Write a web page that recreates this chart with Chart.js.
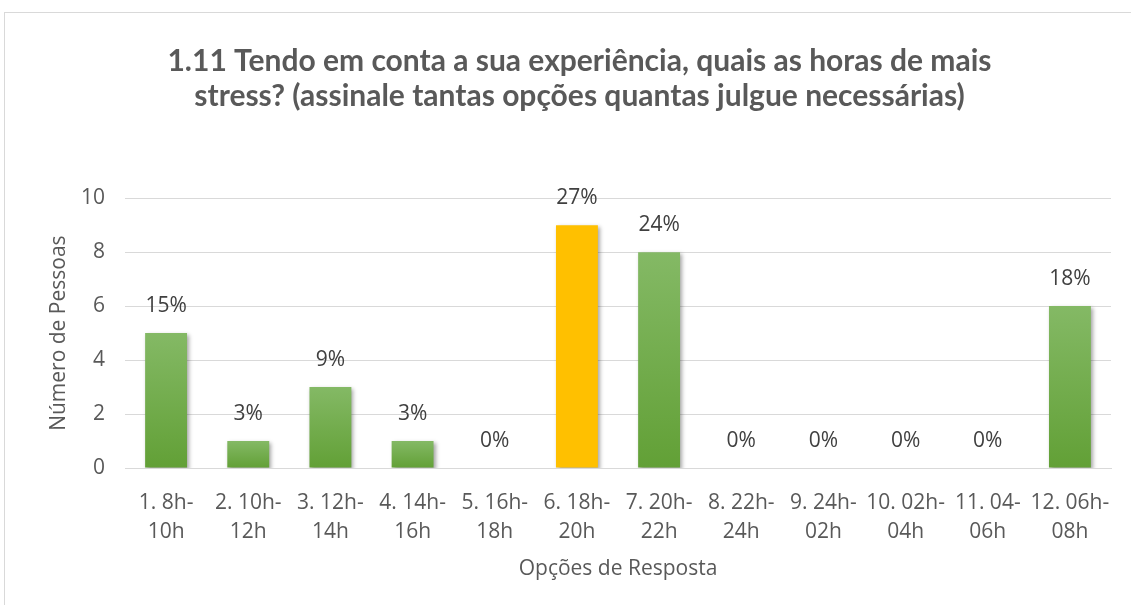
<!DOCTYPE html>
<html>
<head>
<meta charset="utf-8">
<script src="https://cdn.jsdelivr.net/npm/chart.js@4.4.1/dist/chart.umd.min.js"></script>
<style>
    html, body { margin: 0; padding: 0; background: #ffffff; }
    #wrap { position: relative; width: 1131px; height: 605px; }
</style>
</head>
<body>
<div id="wrap"><canvas id="chart1" width="1131" height="605"></canvas></div>
<script>
// Dados do gráfico
const categorias = [
    ['1. 8h-', '10h'], ['2. 10h-', '12h'], ['3. 12h-', '14h'], ['4. 14h-', '16h'],
    ['5. 16h-', '18h'], ['6. 18h-', '20h'], ['7. 20h-', '22h'], ['8. 22h-', '24h'],
    ['9. 24h-', '02h'], ['10. 02h-', '04h'], ['11. 04-', '06h'], ['12. 06h-', '08h']
];
const numeroPessoas = [5, 1, 3, 1, 0, 9, 8, 0, 0, 0, 0, 6];
const percentagens = ['15%', '3%', '9%', '3%', '0%', '27%', '24%', '0%', '0%', '0%', '0%', '18%'];
const destaque = 5; // barra amarela
const tituloLinhas = [
    '1.11 Tendo em conta a sua experiência, quais as horas de mais',
    'stress? (assinale tantas opções quantas julgue necessárias)'
];

const textColor = '#595959';
const fontBase = "'Open Sans', 'DejaVu Sans', sans-serif";

// Cor de cada barra (gradiente verde, destaque amarelo)
const barColor = (context) => {
    const chart = context.chart;
    if (context.dataIndex === destaque) return '#FFC000';
    const y = chart.scales.y;
    if (!y || !chart.chartArea) return '#70AD47';
    const v = context.raw || 0;
    const top = y.getPixelForValue(v);
    const base = y.getPixelForValue(0);
    if (top === base) return '#70AD47';
    const g = chart.ctx.createLinearGradient(0, top, 0, base);
    g.addColorStop(0, '#84b965');
    g.addColorStop(1, '#62a036');
    return g;
};

// Moldura + sombra das barras + rótulos de percentagem
const extras = {
    id: 'extras',
    beforeDraw: (chart) => {
        const ctx = chart.ctx;
        ctx.save();
        ctx.strokeStyle = '#d9d9d9';
        ctx.lineWidth = 1;
        ctx.strokeRect(4.5, 12.5, 1140, 600);
        ctx.restore();
    },
    beforeDatasetsDraw: (chart) => {
        const ctx = chart.ctx;
        ctx.save();
        ctx.shadowColor = 'rgba(0,0,0,0.35)';
        ctx.shadowBlur = 4;
        ctx.shadowOffsetX = 2;
        ctx.shadowOffsetY = 2;
    },
    afterDatasetsDraw: (chart) => {
        const ctx = chart.ctx;
        ctx.restore();
        const meta = chart.getDatasetMeta(0);
        ctx.save();
        ctx.fillStyle = '#404040';
        ctx.font = "21px " + fontBase;
        ctx.textAlign = 'center';
        ctx.textBaseline = 'middle';
        meta.data.forEach((bar, i) => {
            ctx.fillText(percentagens[i], bar.x, bar.y - 27);
        });
        ctx.restore();
    }
};

const ctx = document.getElementById('chart1').getContext('2d');
const chart = new Chart(ctx, {
    type: 'bar',
    data: {
        labels: categorias,
        datasets: [{
            label: 'Número de Pessoas',
            data: numeroPessoas,
            backgroundColor: barColor,
            borderWidth: 0,
            categoryPercentage: 1,
            barPercentage: 0.51
        }]
    },
    options: {
        responsive: false,
        animation: false,
        layout: { padding: { left: 46, right: 18, top: 0, bottom: 19 } },
        plugins: {
            legend: { display: false },
            tooltip: { enabled: false },
            title: {
                display: true,
                text: tituloLinhas,
                color: textColor,
                font: { family: "Lato, 'Open Sans', sans-serif", size: 30, weight: 'bold', lineHeight: 1.17 },
                padding: { top: 44, bottom: 84 }
            }
        },
        scales: {
            y: {
                min: 0,
                max: 10,
                ticks: { stepSize: 2, color: textColor, font: { family: fontBase, size: 21 }, padding: 20 },
                grid: { color: '#d9d9d9', drawTicks: false },
                border: { display: false },
                title: { display: true, text: 'Número de Pessoas', color: textColor, font: { family: fontBase, size: 21 }, padding: 0 },
                afterFit: (scale) => { scale.width = 79; }
            },
            x: {
                ticks: { color: textColor, font: { family: fontBase, size: 21, lineHeight: 1.38 }, maxRotation: 0, autoSkip: false, padding: 21 },
                grid: { display: false, drawTicks: false },
                border: { color: '#d9d9d9', width: 1 },
                title: { display: true, text: 'Opções de Resposta', color: textColor, font: { family: fontBase, size: 21 }, padding: { top: 8, bottom: 4 } },
                afterFit: (scale) => { scale.height = 118; }
            }
        }
    },
    plugins: [extras]
});
</script>
</body>
</html>
